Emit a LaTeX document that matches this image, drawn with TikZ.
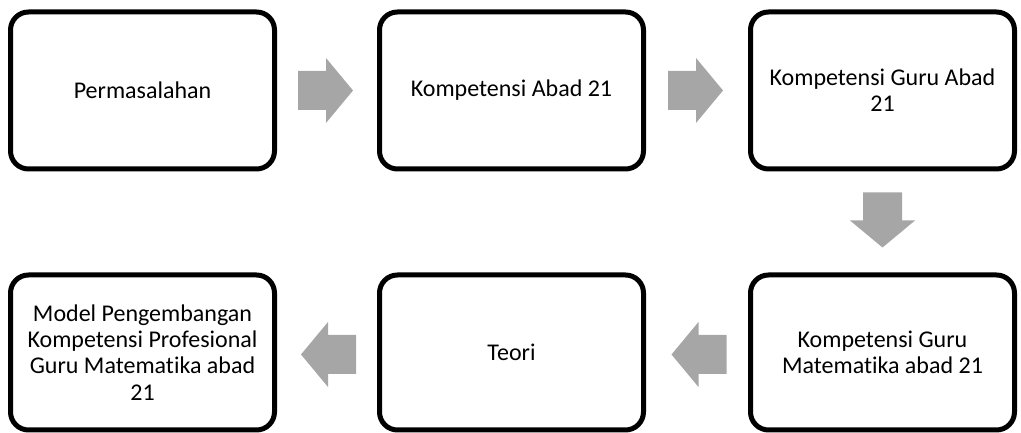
\documentclass[tikz,border=0pt]{standalone}
\usepackage{fontspec}
\setmainfont{Carlito}[Ligatures=NoCommon]
\usetikzlibrary{calc}
\definecolor{arrowgray}{HTML}{A6A6A6}
\tikzset{
  stagebox/.style={draw=black, line width=5pt, rounded corners=18pt, fill=white,
    minimum width=264pt, minimum height=157pt, align=center, inner sep=4pt,
    font=\fontsize{24}{26.3}\selectfont},
  arrowfill/.style={fill=arrowgray}
}
% block arrow centred at #1, pointing in direction #2 (degrees)
\newcommand\blockarrow[2]{%
  \fill[arrowfill, shift={#1}, rotate=#2]
    (-27.5,-19.5) -- (0.5,-19.5) -- (0.5,-32.5) -- (27.5,0)
    -- (0.5,32.5) -- (0.5,19.5) -- (-27.5,19.5) -- cycle;}
\begin{document}
\begin{tikzpicture}[x=1pt,y=1pt]
  \useasboundingbox (0,0) rectangle (1021,433);
  % top row
  \node[stagebox] (p1) at (142.5,342.5) {Permasalahan};
  \node[stagebox] (p2) at (511.5,342.5) {Kompetensi Abad 21};
  \node[stagebox] (p3) at (882.5,342.5) {Kompetensi Guru Abad\\21};
  % bottom row
  \node[stagebox, minimum height=155pt] (p4) at (882.5,80.5) {Kompetensi Guru\\Matematika abad 21};
  \node[stagebox, minimum height=155pt] (p5) at (511.5,80.5) {Teori};
  \node[stagebox, minimum height=155pt] (p6) at (142.5,80.5) {Model Pengembangan\\Kompetensi Profesional\\Guru Matematika abad\\21};
  % connectors
  \blockarrow{($(p1.east)!0.5!(p2.west)+(-1.5,0)$)}{0}
  \blockarrow{($(p2.east)!0.5!(p3.west)+(-1.5,0)$)}{0}
  \blockarrow{($(p3.south)!0.5!(p4.north)+(0,2)$)}{-90}
  \blockarrow{($(p4.west)!0.5!(p5.east)+(2,-2)$)}{180}
  \blockarrow{($(p5.west)!0.5!(p6.east)+(1.5,-2)$)}{180}
\end{tikzpicture}
\end{document}
